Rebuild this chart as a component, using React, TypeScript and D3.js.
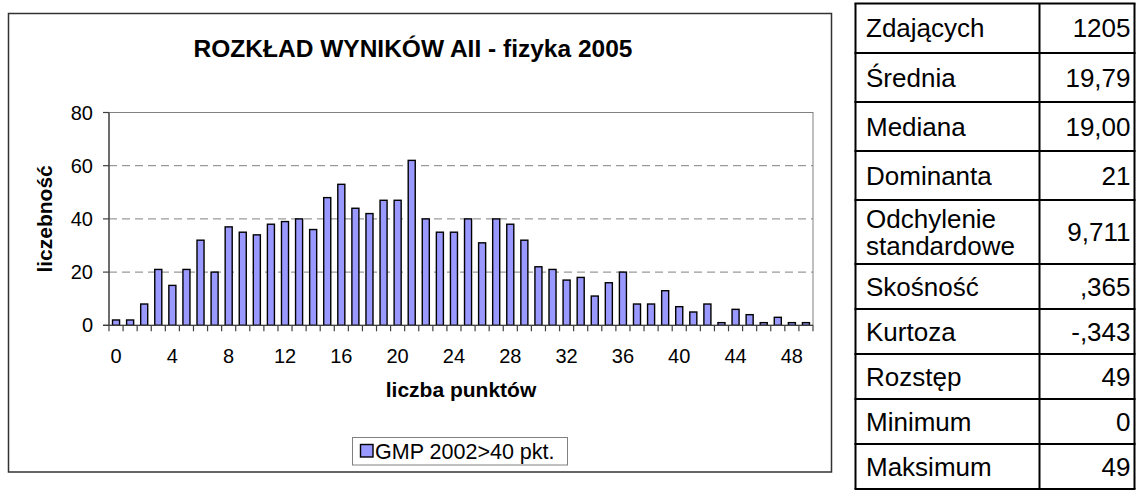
import React from "react";
import * as d3 from "d3";

const categories: number[] = d3.range(0, 50);
const counts: number[] = [
  2, 2, 8, 21, 15, 21, 32, 20, 37, 35,
  34, 38, 39, 40, 36, 48, 53, 44, 42, 47,
  47, 62, 40, 35, 35, 40, 31, 40, 38, 32,
  22, 21, 17, 18, 11, 16, 20, 8, 8, 13,
  7, 5, 8, 1, 6, 4, 1, 3, 1, 1,
];
const yTicks: number[] = [0, 20, 40, 60, 80];
const xTickLabels: number[] = [0, 4, 8, 12, 16, 20, 24, 28, 32, 36, 40, 44, 48];
const seriesName = "GMP 2002>40 pkt.";
const title = "ROZKŁAD WYNIKÓW AII - fizyka 2005";
const xTitle = "liczba punktów";
const yTitle = "liczebność";

const statLabels: string[][] = [
  ["Zdających"], ["Średnia"], ["Mediana"], ["Dominanta"], ["Odchylenie", "standardowe"],
  ["Skośność"], ["Kurtoza"], ["Rozstęp"], ["Minimum"], ["Maksimum"],
];
const statValues: string[] = ["1205", "19,79", "19,00", "21", "9,711", ",365", "-,343", "49", "0", "49"];

const FONT = "'Liberation Sans', Arial, sans-serif";

export default function App() {
  const W = 1136, H = 501;
  const pl = 109, pr = 813, pt = 112.5, pb = 325.3;
  const x = d3.scaleBand<number>().domain(categories).range([pl, pr]).paddingInner(0.5).paddingOuter(0.25);
  const xc = d3.scaleBand<number>().domain(categories).range([pl, pr]);
  const y = d3.scaleLinear().domain([0, 80]).range([pb, pt]);

  // table geometry
  const tx0 = 855.5, tx1 = 1039.5, tx2 = 1134.5;
  const rowLines = [3.5, 53, 102, 151, 200, 264, 309, 354, 399, 444, 489];

  return (
    <svg width={W} height={H} style={{ position: "absolute", left: 0, top: 0, background: "#fff" }} fontFamily={FONT}>
      <rect x={0} y={0} width={W} height={H} fill="#fff" />
      {/* chart frame */}
      <rect x={8.5} y={13.5} width={823} height={458.5} fill="#fff" stroke="#333" strokeWidth={1.5} />
      <text x={413} y={57} textAnchor="middle" fontSize={24.5} fontWeight="bold">{title}</text>

      {/* plot area border */}
      <rect x={pl} y={pt} width={pr - pl} height={pb - pt} fill="#fff" stroke="#808080" strokeWidth={1} />
      {yTicks.filter((t) => t > 0 && t < 80).map((t) => (
        <line key={t} x1={pl} x2={pr} y1={y(t)} y2={y(t)} stroke="#808080" strokeWidth={1} strokeDasharray="8,5" />
      ))}

      {/* bars */}
      {counts.map((v, i) => (
        <rect key={i} x={x(categories[i])!} y={y(v)} width={x.bandwidth()} height={pb - y(v)}
          fill="#9999FF" stroke="#000" strokeWidth={1.4} />
      ))}

      {/* axes */}
      <line x1={pl} x2={pl} y1={pt} y2={pb} stroke="#404040" strokeWidth={1.3} />
      <line x1={pl - 6} x2={pr} y1={pb} y2={pb} stroke="#404040" strokeWidth={1.3} />
      {yTicks.map((t) => (
        <g key={t}>
          <line x1={pl - 6} x2={pl} y1={y(t)} y2={y(t)} stroke="#404040" strokeWidth={1.2} />
          <text x={93} y={y(t) + 7} textAnchor="end" fontSize={20}>{t}</text>
        </g>
      ))}
      {categories.concat([50]).map((c) => {
        const xx = c < 50 ? xc(c)! : pr;
        return <line key={c} x1={xx} x2={xx} y1={pb} y2={pb + 6} stroke="#404040" strokeWidth={1.2} />;
      })}
      {xTickLabels.map((c) => (
        <text key={c} x={xc(c)! + xc.bandwidth() / 2} y={363} textAnchor="middle" fontSize={20}>{c}</text>
      ))}
      <text x={(pl + pr) / 2} y={397} textAnchor="middle" fontSize={21} fontWeight="bold">{xTitle}</text>
      <text transform={`translate(52,${(pt + pb) / 2}) rotate(-90)`} textAnchor="middle" fontSize={21} fontWeight="bold">{yTitle}</text>

      {/* legend */}
      <rect x={352.5} y={437.5} width={215} height={27.5} fill="#fff" stroke="#808080" strokeWidth={1} />
      <rect x={360.5} y={444.5} width={12.5} height={12.5} fill="#9999FF" stroke="#000" strokeWidth={1.4} />
      <text x={375} y={458.5} fontSize={21.5}>{seriesName}</text>

      {/* stats table */}
      {statLabels.map((lines, i) => {
        const top = rowLines[i], bot = rowLines[i + 1];
        const mid = (top + bot) / 2;
        return (
          <g key={i}>
            {lines.map((ln, j) => (
              <text key={j} x={866} y={mid + 9 + (j - (lines.length - 1) / 2) * 27} fontSize={26}>{ln}</text>
            ))}
            <text x={tx2 - 4} y={mid + 9} textAnchor="end" fontSize={26}>{statValues[i]}</text>
          </g>
        );
      })}
      {rowLines.map((yy, i) => (
        <line key={i} x1={tx0 - 1} x2={tx2 + 1} y1={yy} y2={yy} stroke="#000" strokeWidth={2} />
      ))}
      <line x1={tx0} x2={tx0} y1={rowLines[0]} y2={rowLines[rowLines.length - 1]} stroke="#000" strokeWidth={2} />
      <line x1={tx1} x2={tx1} y1={rowLines[0]} y2={rowLines[rowLines.length - 1]} stroke="#000" strokeWidth={2} />
      <line x1={tx2} x2={tx2} y1={rowLines[0]} y2={rowLines[rowLines.length - 1]} stroke="#000" strokeWidth={2} />
    </svg>
  );
}
